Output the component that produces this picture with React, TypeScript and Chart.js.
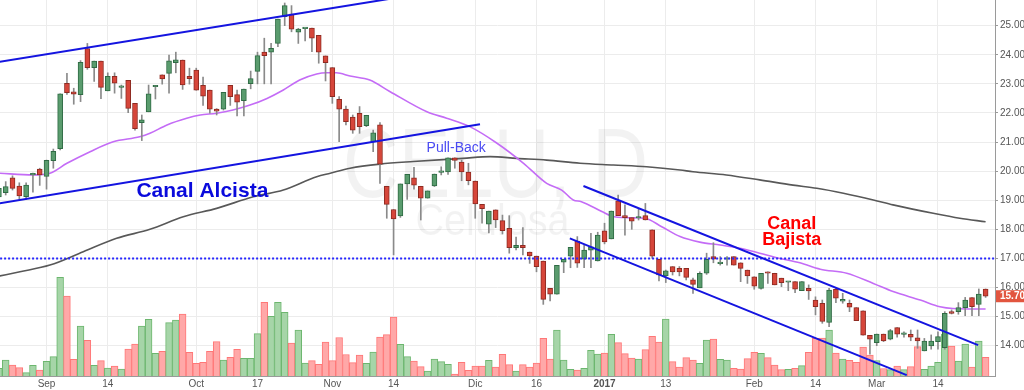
import React, { useEffect, useRef } from 'react';
import { Chart, registerables } from 'chart.js';

Chart.register(...registerables);

const FONT = '"Liberation Sans", Arial, sans-serif';

// ---- daily candles (index 0 = first visible session) ----
const opens = [
  19.11, 19.26, 19.77, 19.49, 19.12, 19.87, 20.07, 19.82, 20.36, 20.77,
  23.02, 22.73, 22.63, 24.21, 23.56, 23.78, 22.76, 23.26, 22.88, 23.12,
  22.33, 21.67, 22.04, 22.90, 23.31, 23.36, 23.73, 23.82, 23.26, 23.47,
  22.95, 22.79, 22.13, 22.13, 22.95, 22.63, 22.42, 23.01, 23.43, 24.09,
  24.09, 24.39, 25.31, 25.40, 24.78, 24.90, 24.92, 24.67, 23.96, 23.56,
  22.47, 22.13, 21.86, 21.99, 21.56, 21.01, 21.59, 19.48, 18.68, 18.46,
  19.56, 19.77, 19.48, 19.07, 19.49, 19.96, 19.97, 20.46, 20.31, 19.97,
  19.66, 18.86, 18.18, 18.67, 18.30, 18.03, 17.37, 17.45, 17.22, 17.08,
  16.91, 15.97, 15.77, 16.87, 17.08, 17.60, 16.97, 17.28, 16.91, 17.95,
  17.67, 18.98, 18.47, 18.40, 18.39, 18.47, 17.98, 16.97, 16.40, 16.72,
  16.66, 16.66, 16.26, 15.99, 16.49, 17.06, 16.82, 16.97, 17.06, 16.85,
  16.60, 16.37, 15.97, 16.54, 16.49, 16.32, 16.18, 16.20, 15.89, 15.97,
  15.57, 15.46, 14.80, 15.94, 15.53, 15.46, 15.31, 15.20, 14.36, 14.10,
  14.40, 14.22, 14.62, 14.39, 14.39, 14.27, 13.82, 13.99, 14.14, 13.93,
  15.17, 15.17, 15.31, 15.65, 15.42, 15.95,
];
const highs = [
  19.52, 19.64, 19.84, 19.60, 19.60, 19.93, 20.10, 20.38, 20.76, 22.66,
  23.36, 22.85, 23.80, 24.39, 23.78, 23.78, 23.38, 23.38, 22.96, 23.12,
  22.33, 21.93, 22.96, 22.95, 23.31, 23.99, 24.09, 23.82, 23.54, 23.54,
  23.23, 22.79, 22.15, 22.71, 22.95, 22.79, 22.82, 23.44, 24.09, 24.57,
  24.39, 25.23, 25.78, 25.69, 24.91, 24.93, 24.92, 24.67, 23.96, 23.56,
  22.56, 22.24, 21.93, 22.22, 21.92, 21.41, 21.67, 19.48, 18.68, 19.56,
  19.89, 20.13, 19.48, 19.32, 19.90, 20.15, 20.46, 20.46, 20.38, 20.27,
  19.66, 18.86, 18.63, 18.67, 18.49, 18.47, 17.73, 18.06, 17.22, 17.08,
  16.91, 15.97, 16.76, 16.97, 17.38, 17.75, 17.46, 17.86, 17.90, 18.21,
  18.63, 19.18, 18.84, 18.40, 18.69, 18.89, 17.98, 16.97, 16.60, 16.72,
  16.72, 16.66, 16.32, 16.54, 17.18, 17.54, 17.06, 17.06, 17.06, 16.85,
  16.60, 16.37, 16.49, 16.54, 16.49, 16.32, 16.19, 16.20, 16.20, 16.09,
  15.68, 15.57, 15.97, 15.97, 15.80, 15.57, 15.31, 15.20, 14.36, 14.40,
  14.40, 14.56, 14.62, 14.48, 14.54, 14.54, 14.25, 14.37, 14.48, 15.17,
  15.23, 15.48, 15.66, 15.65, 15.95, 15.95,
];
const lows = [
  19.01, 19.18, 19.35, 19.03, 19.03, 19.28, 19.51, 19.38, 20.10, 20.73,
  22.64, 22.30, 22.39, 23.50, 23.08, 22.49, 22.76, 22.68, 22.50, 22.01,
  21.41, 21.05, 22.04, 22.48, 22.99, 22.68, 23.38, 22.81, 22.99, 22.78,
  22.26, 21.99, 21.93, 22.10, 22.26, 21.90, 21.90, 22.83, 23.00, 23.00,
  23.00, 24.28, 25.00, 24.79, 24.39, 24.48, 24.11, 23.71, 23.10, 22.33,
  21.01, 21.59, 21.30, 21.30, 21.53, 20.67, 19.58, 18.38, 17.12, 18.41,
  19.03, 19.38, 18.32, 19.07, 19.47, 19.87, 19.89, 20.10, 19.67, 19.53,
  18.38, 18.21, 17.88, 18.06, 17.84, 17.18, 17.29, 17.12, 16.83, 16.54,
  15.42, 15.54, 15.77, 16.51, 16.68, 16.69, 16.68, 16.68, 16.91, 17.50,
  17.67, 18.47, 17.80, 18.00, 18.32, 18.32, 17.01, 16.23, 16.17, 16.43,
  16.40, 16.26, 15.80, 15.99, 16.45, 16.85, 16.77, 16.77, 16.77, 16.20,
  16.14, 15.94, 15.94, 16.14, 16.09, 16.03, 15.89, 15.82, 15.89, 15.59,
  15.06, 14.77, 14.65, 15.48, 15.46, 15.17, 14.86, 14.36, 13.71, 14.00,
  14.14, 14.20, 14.29, 14.29, 14.17, 13.91, 13.82, 13.88, 13.88, 13.88,
  15.09, 15.08, 15.03, 15.03, 15.03, 15.66,
];
const closes = [
  19.41, 19.47, 19.41, 19.15, 19.52, 19.88, 19.87, 20.37, 20.68, 22.66,
  22.70, 22.65, 23.74, 23.56, 23.78, 22.88, 23.26, 23.02, 22.89, 22.16,
  21.46, 21.76, 22.66, 22.95, 23.17, 23.79, 23.83, 22.96, 23.18, 22.78,
  22.58, 22.13, 22.06, 22.71, 22.56, 22.37, 22.82, 23.18, 23.97, 23.97,
  24.22, 25.23, 25.69, 24.88, 24.88, 24.92, 24.57, 24.09, 23.73, 22.56,
  22.13, 21.70, 21.41, 21.53, 21.92, 21.32, 20.24, 18.86, 18.36, 19.56,
  19.89, 19.52, 19.07, 19.32, 19.90, 19.97, 20.46, 20.37, 19.97, 19.67,
  18.87, 18.71, 18.63, 18.32, 17.95, 17.37, 17.45, 17.37, 17.09, 16.72,
  15.59, 15.77, 16.76, 16.97, 17.38, 16.84, 17.29, 17.40, 17.80, 17.57,
  18.63, 18.47, 18.40, 18.28, 18.40, 18.32, 17.08, 16.43, 16.57, 16.54,
  16.54, 16.35, 16.11, 16.49, 16.97, 16.97, 16.83, 16.98, 16.77, 16.66,
  16.40, 16.05, 16.49, 16.49, 16.09, 16.17, 16.19, 15.94, 16.20, 15.88,
  15.34, 14.83, 15.91, 15.63, 15.59, 15.32, 14.86, 14.36, 14.22, 14.40,
  14.16, 14.52, 14.40, 14.40, 14.29, 14.16, 14.16, 14.16, 14.31, 15.11,
  15.11, 15.31, 15.57, 15.34, 15.77, 15.70,
];
// volume (thousand shares, estimated)
const volumes = [
  7.7, 16, 11, 8.3, 3.3, 10.7, 6, 14.7, 19.3, 98.7,
  80, 16.7, 50, 35.7, 10.7, 15.3, 8, 10, 7, 27,
  32, 50, 56.7, 22.7, 24.7, 53.3, 56, 62, 23.7, 12.7,
  13.7, 24.7, 34.3, 16, 18.7, 26.7, 17.7, 17.7, 42.3, 73.7,
  59.7, 73.7, 63.7, 33, 46, 13, 15.3, 11.7, 34, 15.3,
  38.5, 21.5, 13.3, 21, 12.7, 24, 39, 41.3, 59, 31.7,
  19.3, 15, 9.3, 5, 17, 14.3, 11.7, 2, 13.7, 5.7,
  10, 10, 15.7, 9, 21.7, 11.3, 5, 11.3, 9, 13,
  37.7, 17, 46, 16, 6.7, 6, 7.7, 25.7, 22, 23,
  41.7, 33.3, 22.3, 18, 17, 26.3, 39.7, 34, 57, 14.3,
  9, 18.3, 16, 12.7, 36, 37, 16.7, 16, 7.7, 7,
  17.3, 23.7, 22.7, 18.3, 11, 6.3, 6.7, 7.7, 10.3, 23.7,
  37.7, 38, 46, 23, 17, 15.7, 13.7, 29, 21, 15.5,
  7.5, 6.3, 10, 6.3, 9.3, 29.3, 6.6, 10, 13.6, 42,
  30, 15, 32, 9, 35, 18.7,
];

// ---- x axis labels ----
const tickIndex = [7, 16, 29, 38, 49, 58, 70, 79, 89, 98, 111, 120, 129, 138];
const tickLabels = ['Sep', '14', 'Oct', '17', 'Nov', '14', 'Dic', '16', '2017', '13', 'Feb', '14', 'Mar', '14'];
const yearTick = 89;
const priceTicks = [14, 15, 16, 17, 18, 19, 20, 21, 22, 23, 24, 25];

// ---- moving averages ----
const maFastIdx = [0, 5, 7.5, 10, 13.4, 16.8, 20.7, 22.2, 24.7, 27.6, 29.6, 32, 34.4, 36.9, 39.4, 41.8, 44.2, 46.7, 48.2, 49.6, 51.6, 54.5, 57.5, 62.9, 65.8, 69.2, 73.2, 77.1, 80.5, 82.7, 84.4, 85.6, 88.6, 90, 92.5, 94.9, 97.4, 100.1, 103, 106, 108.9, 111.8, 114.8, 117.7, 120.7, 124.6, 128.5, 131.4, 135.4, 138.3, 140.2, 145];
const maFastVal = [19.93, 19.87, 19.93, 20.27, 20.67, 21.01, 21.18, 21.30, 21.59, 21.82, 21.93, 21.99, 22.10, 22.27, 22.50, 22.79, 23.13, 23.34, 23.38, 23.38, 23.27, 23.13, 22.73, 22.04, 21.82, 21.53, 20.96, 20.27, 19.58, 19.35, 19.01, 18.95, 18.61, 18.46, 18.40, 18.38, 18.09, 17.75, 17.56, 17.46, 17.35, 17.18, 17.00, 16.85, 16.63, 16.49, 16.14, 15.86, 15.57, 15.34, 15.28, 15.26];
const maSlowIdx = [0, 3.1, 7.5, 12.4, 17.3, 22.2, 27.1, 32, 37.4, 41.8, 46.7, 48.7, 51.6, 56, 60.9, 68.2, 72.2, 76.1, 80.5, 85.4, 90.3, 95.2, 100.1, 102, 106.9, 111.8, 116.7, 120.2, 124.1, 128.5, 131.4, 137.3, 141.2, 145];
const maSlowVal = [16.39, 16.54, 16.77, 17.23, 17.69, 18.00, 18.43, 18.72, 19.12, 19.35, 19.81, 19.93, 20.10, 20.24, 20.33, 20.44, 20.50, 20.44, 20.38, 20.27, 20.21, 20.15, 20.04, 19.98, 19.87, 19.70, 19.52, 19.41, 19.24, 19.01, 18.84, 18.55, 18.38, 18.26];

// ---- drawn channels (index, price) ----
const upperRiseLine = [[-1, 23.72], [60, 26.02]];
const lowerRiseLine = [[-1, 18.85], [70.7, 21.61]];
const upperFallLine = [[85.9, 19.49], [143.9, 14.02]];
const lowerFallLine = [[83.9, 17.69], [133.4, 12.99]];
const supportLevel = 17.0;

// ---- notes (index, price baseline) ----
const noteTexts = ['Canal Alcista', 'Pull-Back', 'Canal', 'Bajista'];
const noteIdx = [29.9, 67.2, 116.5, 116.5];
const notePrice = [19.12, 20.67, 18.0, 17.475];
const noteStyle = [
  { font: `bold 21px ${FONT}`, color: '#0a0adc' },
  { font: `14px ${FONT}`, color: '#4a4af2' },
  { font: `bold 18px ${FONT}`, color: '#ff0000' },
  { font: `bold 18px ${FONT}`, color: '#ff0000' },
];

const UP = '#5a9c6e';
const UP_B = '#2f6b44';
const DN = '#d6463a';
const DN_B = '#8e2b22';
const BLUE = '#1414e0';

const isUp = (i: number) => closes[i] >= opens[i];
const pts = (a: number[][]) => a.map(([x, y]) => ({ x, y }));

const overlay = {
  id: 'overlay',
  beforeDatasetsDraw(chart: any) {
    const { ctx, chartArea: a } = chart;
    ctx.save();
    ctx.beginPath();
    ctx.rect(a.left, a.top, a.right - a.left, a.bottom - a.top);
    ctx.clip();
    ctx.fillStyle = 'rgba(0,0,0,0.05)';
    ctx.textAlign = 'center';
    ctx.textBaseline = 'alphabetic';
    const cx = (a.left + a.right) / 2 - 2;
    ctx.save();
    ctx.translate(cx, a.top + 197);
    ctx.scale(0.79, 1);
    ctx.font = `98px ${FONT}`;
    ctx.fillText('CELU, D', 0, 0);
    ctx.restore();
    ctx.save();
    ctx.translate(cx - 3, a.top + 235);
    ctx.scale(0.88, 1);
    ctx.font = `45px ${FONT}`;
    ctx.fillText('Celulosa', 0, 0);
    ctx.restore();
    ctx.restore();
  },
  afterDatasetsDraw(chart: any) {
    const { ctx, scales } = chart;
    ctx.save();
    ctx.textAlign = 'center';
    ctx.textBaseline = 'alphabetic';
    noteTexts.forEach((t, k) => {
      ctx.font = noteStyle[k].font;
      ctx.fillStyle = noteStyle[k].color;
      ctx.fillText(t, scales.x.getPixelForValue(noteIdx[k]), scales.y.getPixelForValue(notePrice[k]));
    });
    ctx.restore();
  },
  afterDraw(chart: any) {
    const { ctx, chartArea: a, scales } = chart;
    const last = closes.length - 1;
    const y = scales.y.getPixelForValue(closes[last]);
    ctx.save();
    ctx.fillStyle = '#e2553f';
    ctx.fillRect(a.right + 1, y - 6, 30, 12);
    ctx.fillStyle = '#ffffff';
    ctx.font = `bold 10px ${FONT}`;
    ctx.textAlign = 'left';
    ctx.textBaseline = 'middle';
    ctx.fillText(closes[last].toFixed(2), a.right + 5, y + 0.5);
    ctx.restore();
  },
};

export default function App() {
  const ref = useRef<HTMLCanvasElement | null>(null);
  useEffect(() => {
    if (!ref.current) return;
    const idx = closes.map((_, i) => i);
    const chart = new Chart(ref.current, {
      type: 'bar',
      data: {
        datasets: [
          { type: 'line', data: pts(upperRiseLine), borderColor: BLUE, borderWidth: 2, pointRadius: 0, order: 1 },
          { type: 'line', data: pts(lowerRiseLine), borderColor: BLUE, borderWidth: 2, pointRadius: 0, order: 1 },
          { type: 'line', data: pts(upperFallLine), borderColor: BLUE, borderWidth: 2, pointRadius: 0, order: 1 },
          { type: 'line', data: pts(lowerFallLine), borderColor: BLUE, borderWidth: 2, pointRadius: 0, order: 1 },
          {
            type: 'line',
            data: [{ x: -1, y: supportLevel }, { x: 147, y: supportLevel }],
            borderColor: '#2626ff', borderWidth: 2, borderDash: [2, 2], pointRadius: 0, order: 2,
          },
          {
            type: 'bar',
            data: idx.map((i) => ({ x: i, y: [opens[i], closes[i]] })),
            backgroundColor: (c: any) => (isUp(c.dataIndex) ? UP : DN),
            borderColor: (c: any) => (isUp(c.dataIndex) ? UP_B : DN_B),
            borderWidth: 1, borderSkipped: false, grouped: false,
            barPercentage: 1, categoryPercentage: 1, maxBarThickness: 5, minBarLength: 1.5, order: 3,
          },
          {
            type: 'bar',
            data: idx.map((i) => ({ x: i, y: [lows[i], highs[i]] })),
            backgroundColor: '#8a8a8a', borderWidth: 0, grouped: false,
            barPercentage: 1, categoryPercentage: 1, maxBarThickness: 1, order: 4,
          },
          {
            type: 'line',
            data: maFastIdx.map((x, k) => ({ x, y: maFastVal[k] })),
            borderColor: '#c46cf6', borderWidth: 1.6, pointRadius: 0, cubicInterpolationMode: 'monotone', order: 5,
          },
          {
            type: 'line',
            data: maSlowIdx.map((x, k) => ({ x, y: maSlowVal[k] })),
            borderColor: '#585858', borderWidth: 1.6, pointRadius: 0, cubicInterpolationMode: 'monotone', order: 6,
          },
          {
            type: 'bar',
            yAxisID: 'yVol',
            data: idx.map((i) => ({ x: i, y: volumes[i] })),
            backgroundColor: (c: any) => (isUp(c.dataIndex) ? '#a6d5a8' : '#ffa8a8'),
            borderColor: (c: any) => (isUp(c.dataIndex) ? '#6cb66e' : '#ff7777'),
            borderWidth: 1, borderSkipped: 'start', grouped: false,
            barPercentage: 1, categoryPercentage: 1, order: 10,
          },
        ] as any,
      },
      options: {
        responsive: false,
        animation: false,
        devicePixelRatio: 1,
        events: [],
        layout: { padding: 0 },
        plugins: { legend: { display: false }, tooltip: { enabled: false } },
        scales: {
          x: {
            type: 'linear',
            min: 0.1616,
            max: 146.38,
            offset: false,
            grid: { color: '#ececec', lineWidth: 1, drawTicks: false, offset: false },
            border: { display: true, color: '#9a9a9a', width: 1 },
            afterBuildTicks: (s: any) => { s.ticks = tickIndex.map((v) => ({ value: v })); },
            afterFit: (s: any) => { s.height = 14; s.paddingLeft = 0; s.paddingRight = 0; s.paddingTop = 0; s.paddingBottom = 0; },
            ticks: {
              autoSkip: false,
              maxRotation: 0,
              padding: 2,
              color: '#555555',
              font: (c: any) => ({ size: 10, family: FONT, weight: c.tick && c.tick.value === yearTick ? 'bold' : 'normal' }),
              callback: (v: any) => { const k = tickIndex.indexOf(Number(v)); return k >= 0 ? tickLabels[k] : ''; },
            },
          },
          y: {
            type: 'linear',
            position: 'right',
            min: 12.958,
            max: 25.883,
            grid: { color: '#ececec', lineWidth: 1, tickLength: 3, tickColor: '#9a9a9a' },
            border: { display: true, color: '#9a9a9a', width: 1 },
            afterBuildTicks: (s: any) => { s.ticks = priceTicks.map((v) => ({ value: v })); },
            afterFit: (s: any) => { s.width = 29; s.paddingTop = 0; s.paddingBottom = 0; s.paddingLeft = 0; s.paddingRight = 0; },
            ticks: {
              padding: 2,
              color: '#555555',
              font: { size: 10, family: FONT },
              callback: (v: any) => Number(v).toFixed(2),
            },
          },
          yVol: { type: 'linear', display: false, min: 0, max: 376 },
        },
      } as any,
      plugins: [overlay],
    });
    return () => chart.destroy();
  }, []);
  return (
    <div style={{ position: 'absolute', left: 0, top: 0, width: 1024, height: 390, background: '#fff' }}>
      <canvas ref={ref} width={1024} height={390} style={{ display: 'block', width: 1024, height: 390 }} />
    </div>
  );
}
